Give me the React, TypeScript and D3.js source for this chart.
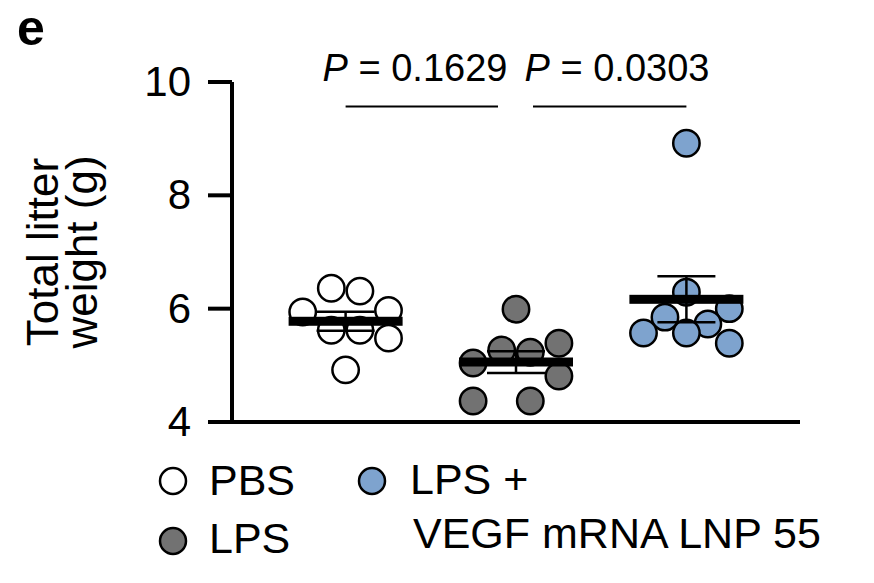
import React from 'react';
import * as d3 from 'd3';

// ---- data ----
const groupKeys = ['PBS', 'LPS', 'LNP'];
const groupLabels = ['PBS', 'LPS', 'LPS + VEGF mRNA LNP 55'];
const pbsValues = [6.36, 6.31, 5.94, 5.97, 5.62, 5.62, 5.48, 4.92];
const lpsValues = [5.99, 5.39, 5.27, 5.23, 5.04, 4.81, 4.37, 4.37];
const lnpValues = [8.92, 6.29, 6.0, 5.85, 5.73, 5.57, 5.57, 5.39];
// horizontal spread of each dot, in dot diameters (as arranged in the reference)
const pbsJitter = [-0.5, 0.5, -1.5, 1.5, -0.5, 0.5, 1.5, 0];
const lpsJitter = [0, 1.5, -0.5, 0.5, -1.5, 1.5, -1.5, 0.5];
const lnpJitter = [0, 0, 1.5, -0.75, 0.75, -1.5, 0, 1.5];
const yTicks = [4, 6, 8, 10];
const pValues = ['0.1629', '0.0303'];

const W = 874;
const H = 583;
const FONT = '"Liberation Sans", Arial, Helvetica, sans-serif';
const colors = { PBS: '#ffffff', LPS: '#727272', LNP: '#7ea3ce' };

export default function App() {
  React.useEffect(() => {
    document.body.style.margin = '0';
  }, []);

  const y = d3.scaleLinear().domain([4, 10]).range([422, 82]);
  const x = d3.scalePoint<string>().domain(groupKeys).range([232, 800]).padding(2 / 3);
  const dotR = 13.2;
  const jit = d3.scaleLinear().domain([0, 1]).range([0, 28.6]);

  const series = [
    { key: 'PBS', values: pbsValues, jitter: pbsJitter },
    { key: 'LPS', values: lpsValues, jitter: lpsJitter },
    { key: 'LNP', values: lnpValues, jitter: lnpJitter },
  ];

  const stats = series.map((s) => {
    const m = d3.mean(s.values) as number;
    const sem = (d3.deviation(s.values) as number) / Math.sqrt(s.values.length);
    return { key: s.key, mean: m, sem };
  });

  const x0 = 232;
  const xEnd = 800;
  const yBase = 422;

  const brackets = [
    { x1: x('PBS')!, x2: x('LPS')! - 18, tx: 415, p: pValues[0] },
    { x1: x('LPS')! + 17, x2: x('LNP')!, tx: 617, p: pValues[1] },
  ];

  const yMid = (y(4) + y(10)) / 2;

  return (
    <svg
      width={W}
      height={H}
      viewBox={`0 0 ${W} ${H}`}
      style={{ position: 'absolute', left: 0, top: 0, display: 'block', background: '#fff' }}
      fontFamily={FONT}
    >
      <rect x={0} y={0} width={W} height={H} fill="#fff" />
      {/* panel letter */}
      <text x={17} y={45} fontSize={50} fontWeight="bold" fill="#000">e</text>

      {/* y label */}
      <g transform={`translate(58,${yMid}) rotate(-90)`}>
        <text x={0} y={0} fontSize={44} textAnchor="middle" fill="#000">Total litter</text>
      </g>
      <g transform={`translate(97,${yMid}) rotate(-90)`}>
        <text x={0} y={0} fontSize={44} textAnchor="middle" fill="#000">weight (g)</text>
      </g>

      {/* axes */}
      <line x1={x0} x2={x0} y1={y(10)} y2={yBase + 2} stroke="#000" strokeWidth={4} />
      <line x1={x0 - 24} x2={xEnd} y1={yBase} y2={yBase} stroke="#000" strokeWidth={4} />
      {yTicks.map((t) => (
        <g key={t}>
          <line x1={x0 - 24} x2={x0} y1={y(t)} y2={y(t)} stroke="#000" strokeWidth={4} />
          <text x={191} y={y(t) + 14} fontSize={42} textAnchor="end" fill="#000">{t}</text>
        </g>
      ))}

      {/* dots */}
      {series.map((s) => (
        <g key={s.key}>
          {s.values.map((v, i) => (
            <circle
              key={i}
              cx={x(s.key)! + jit(s.jitter[i])}
              cy={y(v)}
              r={dotR}
              fill={(colors as any)[s.key]}
              stroke="#000"
              strokeWidth={2.5}
            />
          ))}
        </g>
      ))}

      {/* SEM and mean */}
      {stats.map((s) => {
        const cx = x(s.key)!;
        return (
          <g key={s.key}>
            <line x1={cx} x2={cx} y1={y(s.mean + s.sem)} y2={y(s.mean - s.sem)} stroke="#000" strokeWidth={2.5} />
            <line x1={cx - 29} x2={cx + 29} y1={y(s.mean + s.sem)} y2={y(s.mean + s.sem)} stroke="#000" strokeWidth={2.5} />
            <line x1={cx - 29} x2={cx + 29} y1={y(s.mean - s.sem)} y2={y(s.mean - s.sem)} stroke="#000" strokeWidth={2.5} />
            <rect x={cx - 57} y={y(s.mean) - 4.5} width={114} height={9} fill="#000" />
          </g>
        );
      })}

      {/* P-value brackets */}
      {brackets.map((b, i) => (
        <g key={i}>
          <line x1={b.x1} x2={b.x2} y1={106.5} y2={106.5} stroke="#000" strokeWidth={2.2} />
          <text x={b.tx} y={81} fontSize={38} textAnchor="middle" fill="#000">
            <tspan fontStyle="italic">P</tspan>
            <tspan>{` = ${b.p}`}</tspan>
          </text>
        </g>
      ))}

      {/* legend */}
      <circle cx={173} cy={481} r={13} fill={colors.PBS} stroke="#000" strokeWidth={2.5} />
      <text x={209} y={495} fontSize={43} fill="#000">{groupLabels[0]}</text>
      <circle cx={173} cy={541} r={13} fill={colors.LPS} stroke="#000" strokeWidth={2.5} />
      <text x={209} y={553} fontSize={43} fill="#000">{groupLabels[1]}</text>
      <circle cx={372} cy={481} r={13} fill={colors.LNP} stroke="#000" strokeWidth={2.5} />
      <text x={410} y={494} fontSize={43} fill="#000">LPS +</text>
      <text x={413} y={548} fontSize={43} fill="#000">VEGF mRNA LNP 55</text>
    </svg>
  );
}
